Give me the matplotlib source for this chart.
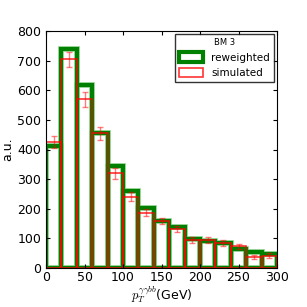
import matplotlib
matplotlib.use("Agg")
import matplotlib.pyplot as plt
import numpy as np

plt.rcParams["mathtext.fontset"] = "cm"

bin_edges = np.arange(0, 320, 20)
reweighted = [411, 740, 617, 457, 343, 259, 204, 160, 137, 98, 92, 85, 64, 54, 48]
simulated = [425, 704, 570, 455, 320, 240, 187, 158, 131, 95, 93, 84, 73, 38, 42]
sim_err = [20, 25, 25, 22, 18, 15, 13, 11, 11, 10, 10, 9, 9, 7, 7]

centers = (bin_edges[:-1] + bin_edges[1:]) / 2
width = 20

fig = plt.figure(figsize=(3.07, 3.07), dpi=100)
ax = fig.add_axes([46 / 307, 1 - 268 / 307, 231 / 307, 237 / 307])

# light halo under the thick green outline
ax.bar(centers, reweighted, width=width, fill=False, edgecolor="#9fd89f",
       linewidth=4.2)
ax.bar(centers, reweighted, width=width, fill=False, edgecolor="green",
       linewidth=3.0, label="reweighted")
ax.bar(centers, simulated, width=width, fill=False, edgecolor="red",
       linewidth=1.2, alpha=0.8, label="simulated")
ax.errorbar(centers, simulated, yerr=sim_err, fmt="none", ecolor="red",
            alpha=0.5, capsize=2, elinewidth=1)

ax.set_xlim(0, 300)
ax.set_ylim(0, 800)
ax.tick_params(direction="in", top=True, right=True, labelsize=9, length=3)
ax.tick_params(axis="x", pad=2.5)
ax.set_xlabel(r"$p_T^{\gamma\gamma bb}$(GeV)", fontsize=9, labelpad=0)
ax.set_ylabel("a.u.", fontsize=9, labelpad=2)

leg = ax.legend(loc="upper right", fontsize=7.5, title="BM 3", fancybox=False,
                handlelength=2.3, handleheight=1.0, borderaxespad=0.3)
leg.get_title().set_fontsize(6)
leg.get_frame().set_edgecolor("black")

fig.savefig("out.png", dpi=100)
